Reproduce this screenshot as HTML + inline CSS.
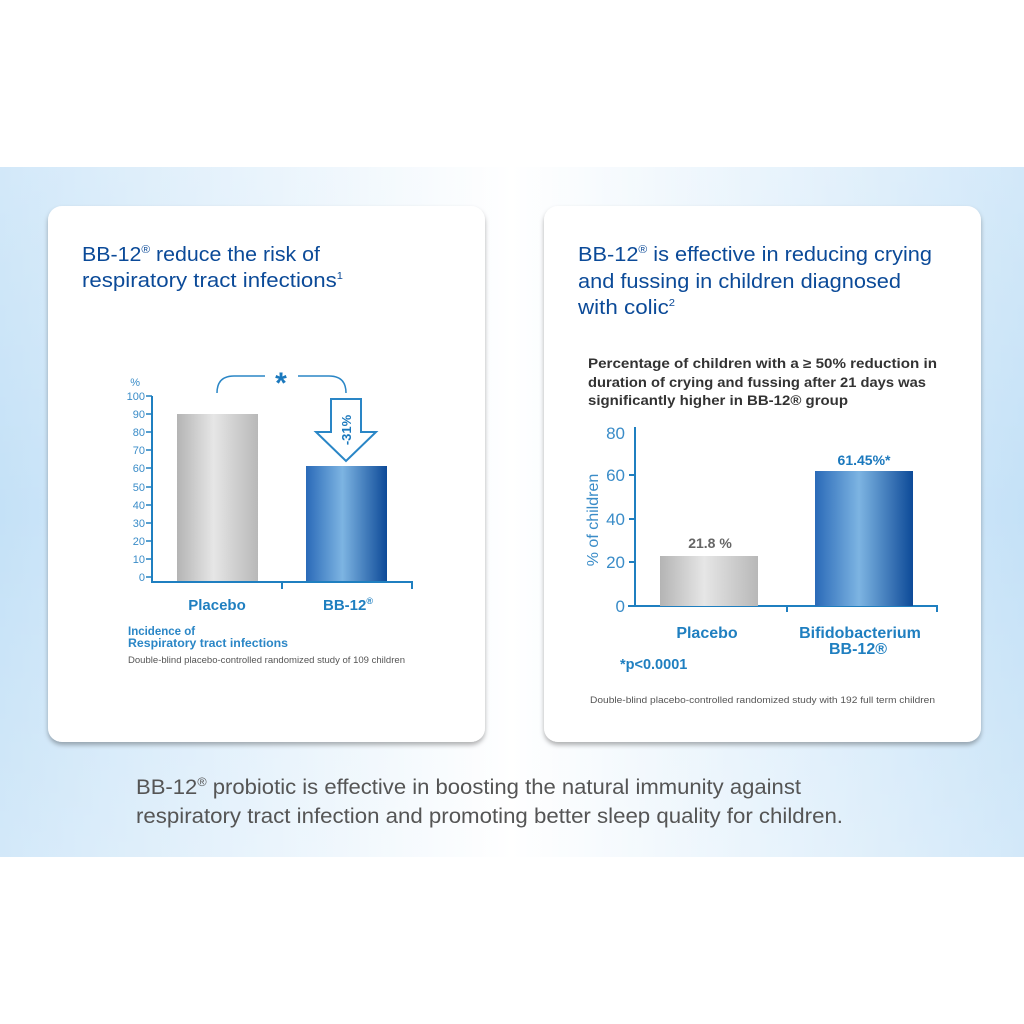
<!DOCTYPE html>
<html><head><meta charset="utf-8"><style>
html,body{margin:0;padding:0;background:#fff;}
svg{display:block;}
text{font-family:"Liberation Sans","DejaVu Sans",sans-serif;}
</style></head><body>
<svg width="1024" height="1024" viewBox="0 0 1024 1024" xmlns="http://www.w3.org/2000/svg">
<defs>
<linearGradient id="bg" x1="0" x2="1" y1="0" y2="0">
<stop offset="0" stop-color="#c4e1f7"/><stop offset="0.5" stop-color="#ffffff"/><stop offset="1" stop-color="#c4e1f7"/>
</linearGradient>
<linearGradient id="bgv" x1="0" x2="0" y1="0" y2="1">
<stop offset="0" stop-color="#ffffff" stop-opacity="0.25"/><stop offset="0.5" stop-color="#ffffff" stop-opacity="0"/><stop offset="1" stop-color="#ffffff" stop-opacity="0.25"/>
</linearGradient>
<linearGradient id="grey" x1="0" x2="1">
<stop offset="0" stop-color="#b4b4b4"/><stop offset="0.45" stop-color="#e6e6e6"/><stop offset="1" stop-color="#b8b8b8"/>
</linearGradient>
<linearGradient id="blue" x1="0" x2="1">
<stop offset="0" stop-color="#2a6ab8"/><stop offset="0.45" stop-color="#7db4e2"/><stop offset="1" stop-color="#0d4a98"/>
</linearGradient>
<filter id="sh" x="-5%" y="-5%" width="110%" height="112%">
<feDropShadow dx="0" dy="3" stdDeviation="2.5" flood-color="#000" flood-opacity="0.3"/>
</filter>
</defs>
<rect x="0" y="167" width="1024" height="690" fill="url(#bg)"/>
<rect x="0" y="167" width="1024" height="690" fill="url(#bgv)"/>

<rect x="48" y="206" width="437" height="536" rx="14" fill="#fff" filter="url(#sh)"/>
<rect x="544" y="206" width="437" height="536" rx="14" fill="#fff" filter="url(#sh)"/>

<g fill="#0b4a98" font-size="20">
<text x="82" y="261" textLength="238" lengthAdjust="spacingAndGlyphs">BB-12<tspan font-size="11" dy="-8">®</tspan><tspan dy="8"> reduce the risk of</tspan></text>
<text x="82" y="287" textLength="261" lengthAdjust="spacingAndGlyphs">respiratory tract infections<tspan font-size="10" dy="-8">1</tspan></text>
<text x="578" y="261" textLength="354" lengthAdjust="spacingAndGlyphs">BB-12<tspan font-size="11" dy="-8">®</tspan><tspan dy="8"> is effective in reducing crying</tspan></text>
<text x="578" y="288" textLength="323" lengthAdjust="spacingAndGlyphs">and fussing in children diagnosed</text>
<text x="578" y="314" textLength="97" lengthAdjust="spacingAndGlyphs">with colic<tspan font-size="10" dy="-8">2</tspan></text>
</g>

<g stroke="#1f7fc0" stroke-width="2" fill="none">
<line x1="152" y1="396" x2="152" y2="582"/>
<line x1="151" y1="582" x2="413" y2="582"/>
<line x1="282" y1="582" x2="282" y2="589"/>
<line x1="412" y1="582" x2="412" y2="589"/>
</g>
<g stroke="#1f7fc0" stroke-width="1.5">
<line x1="146" y1="396" x2="152" y2="396"/><line x1="146" y1="414" x2="152" y2="414"/>
<line x1="146" y1="432" x2="152" y2="432"/><line x1="146" y1="450" x2="152" y2="450"/>
<line x1="146" y1="468" x2="152" y2="468"/><line x1="146" y1="487" x2="152" y2="487"/>
<line x1="146" y1="505" x2="152" y2="505"/><line x1="146" y1="523" x2="152" y2="523"/>
<line x1="146" y1="541" x2="152" y2="541"/><line x1="146" y1="559" x2="152" y2="559"/>
<line x1="146" y1="577" x2="152" y2="577"/>
</g>
<g fill="#3a8cc8" font-size="11" text-anchor="end">
<text x="145" y="400">100</text><text x="145" y="418">90</text><text x="145" y="436">80</text>
<text x="145" y="454">70</text><text x="145" y="472">60</text><text x="145" y="491">50</text>
<text x="145" y="509">40</text><text x="145" y="527">30</text><text x="145" y="545">20</text>
<text x="145" y="563">10</text><text x="145" y="581">0</text>
<text x="140" y="386">%</text>
</g>
<rect x="177" y="414" width="81" height="167" fill="url(#grey)"/>
<rect x="306" y="466" width="81" height="115" fill="url(#blue)"/>
<path d="M217 393 Q217 376 234 376 L265 376 M298 376 L329 376 Q346 376 346 393" stroke="#2a86c6" stroke-width="1.5" fill="none"/>
<text x="281" y="393" font-size="30" font-weight="bold" fill="#1a78bd" text-anchor="middle">*</text>
<path d="M331 399 L361 399 L361 432 L376 432 L346 461 L316 432 L331 432 Z" fill="#fff" stroke="#2a86c6" stroke-width="2"/>
<text transform="translate(351 430) rotate(-90)" font-size="13" font-weight="bold" fill="#1a78bd" text-anchor="middle">-31%</text>
<g fill="#1f7fc0" font-size="15" font-weight="bold" text-anchor="middle">
<text x="217" y="610">Placebo</text>
<text x="348" y="610">BB-12<tspan font-size="9" dy="-6">®</tspan></text>
</g>
<g fill="#2a86c6" font-size="11.5" font-weight="bold">
<text x="128" y="635">Incidence of</text>
<text x="128" y="647" textLength="160" lengthAdjust="spacingAndGlyphs">Respiratory tract infections</text>
</g>
<text x="128" y="663" font-size="9" fill="#555" textLength="277" lengthAdjust="spacingAndGlyphs">Double-blind placebo-controlled randomized study of 109 children</text>

<g fill="#333" font-size="13.5" font-weight="bold">
<text x="588" y="368" textLength="349" lengthAdjust="spacingAndGlyphs">Percentage of children with a ≥ 50% reduction in</text>
<text x="588" y="387" textLength="338" lengthAdjust="spacingAndGlyphs">duration of crying and fussing after 21 days was</text>
<text x="588" y="405" textLength="260" lengthAdjust="spacingAndGlyphs">significantly higher in BB-12® group</text>
</g>
<g stroke="#1f7fc0" stroke-width="2" fill="none">
<line x1="635" y1="427" x2="635" y2="606"/>
<line x1="628" y1="606" x2="938" y2="606"/>
<line x1="787" y1="606" x2="787" y2="612"/>
<line x1="937" y1="606" x2="937" y2="612"/>
<line x1="629" y1="475" x2="635" y2="475"/>
<line x1="629" y1="519" x2="635" y2="519"/>
<line x1="629" y1="562" x2="635" y2="562"/>
</g>
<g fill="#3a8cc8" font-size="17" text-anchor="end">
<text x="625" y="439">80</text><text x="625" y="481">60</text><text x="625" y="525">40</text>
<text x="625" y="568">20</text><text x="625" y="612">0</text>
</g>
<text transform="translate(598 520) rotate(-90)" font-size="16" fill="#3a8cc8" text-anchor="middle">% of children</text>
<rect x="660" y="556" width="98" height="50" fill="url(#grey)"/>
<rect x="815" y="471" width="98" height="135" fill="url(#blue)"/>
<text x="710" y="548" font-size="14" font-weight="bold" fill="#666" text-anchor="middle">21.8 %</text>
<text x="864" y="465" font-size="14" font-weight="bold" fill="#1a78bd" text-anchor="middle">61.45%*</text>
<g fill="#1f7fc0" font-size="16" font-weight="bold" text-anchor="middle">
<text x="707" y="638">Placebo</text>
<text x="860" y="638">Bifidobacterium</text>
<text x="858" y="654">BB-12®</text>
</g>
<text x="620" y="669" font-size="14.5" font-weight="bold" fill="#1f7fc0">*p&lt;0.0001</text>
<text x="590" y="703" font-size="9" fill="#555" textLength="345" lengthAdjust="spacingAndGlyphs">Double-blind placebo-controlled randomized study with 192 full term children</text>

<g fill="#555" font-size="21">
<text x="136" y="794" textLength="665" lengthAdjust="spacingAndGlyphs">BB-12<tspan font-size="12" dy="-8">®</tspan><tspan dy="8"> probiotic is effective in boosting the natural immunity against</tspan></text>
<text x="136" y="823" textLength="707" lengthAdjust="spacingAndGlyphs">respiratory tract infection and promoting better sleep quality for children.</text>
</g>
</svg>
</body></html>
